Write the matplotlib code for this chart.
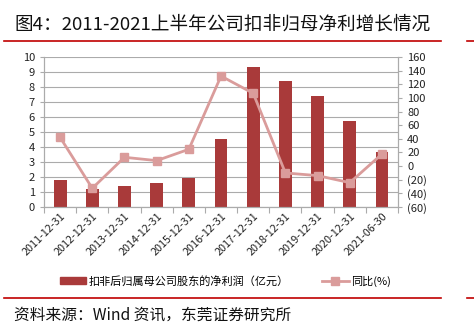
import matplotlib.pyplot as plt
from matplotlib.lines import Line2D
from matplotlib.patches import Patch

plt.rcParams['font.family'] = ['Noto Sans CJK SC', 'DejaVu Sans']

# datos
fechas = ['2011-12-31', '2012-12-31', '2013-12-31', '2014-12-31', '2015-12-31',
          '2016-12-31', '2017-12-31', '2018-12-31', '2019-12-31', '2020-12-31',
          '2021-06-30']
beneficio = [1.8, 1.22, 1.4, 1.58, 1.93, 4.51, 9.35, 8.42, 7.42, 5.71, 3.69]
crecimiento = [42.2, -32.6, 12.9, 8.0, 24.6, 132.0, 106.7, -10.1, -14.0, -24.3, 17.7]

izq_ticks = list(range(0, 11))
der_ticks = list(range(-60, 161, 20))
der_labels = ['(%d)' % -v if v < 0 else str(v) for v in der_ticks]

color_barra = '#A93A3A'
color_linea = '#DA9C9B'
gris = '#ABABAB'

fig = plt.figure(figsize=(4.74, 3.33), dpi=100)
ax = fig.add_axes([0.0928, 0.3784, 0.747, 0.4505])
ax2 = ax.twinx()

x = list(range(len(fechas)))
ax.bar(x, beneficio, width=0.4, color=color_barra, zorder=2)
ax.set_xlim(-0.5, len(fechas) - 0.5)
ax.set_ylim(0, 10)
ax.set_yticks(izq_ticks)
ax.yaxis.grid(True, color=gris, linewidth=0.8, zorder=0)
ax.set_axisbelow(True)

ax2.plot(x, crecimiento, color=color_linea, linewidth=2.0, marker='s',
         markersize=6, markerfacecolor=color_linea, markeredgecolor=color_linea, zorder=3)
ax2.set_ylim(-60, 160)
ax2.set_yticks(der_ticks)
ax2.set_yticklabels(der_labels)

# ejes
for a in (ax, ax2):
    for s in a.spines.values():
        s.set_color(gris)
    a.spines['top'].set_visible(False)
    a.tick_params(axis='y', labelsize=8, colors='#222222', length=3, width=0.8)
    a.tick_params(axis='y', color=gris)

ax.set_xticks([i - 0.5 for i in range(len(fechas) + 1)], minor=False)
ax.set_xticklabels([])
ax.tick_params(axis='x', length=4, color=gris, width=0.8)
ax.set_xticks(x, minor=True)
ax.set_xticklabels(fechas, minor=True, rotation=45, ha='right',
                   rotation_mode='anchor', fontsize=7.8, color='#222222')
ax.tick_params(axis='x', which='minor', length=0, pad=3)

# leyenda
handles = [Patch(facecolor=color_barra, edgecolor=color_barra),
           Line2D([0], [0], color=color_linea, linewidth=2.0, marker='s',
                  markersize=6, markerfacecolor=color_linea)]
fig.legend(handles, ['扣非后归属母公司股东的净利润（亿元）', '同比(%)'],
           loc='center', bbox_to_anchor=(0.475, 0.155), ncol=2, frameon=False,
           fontsize=8, handlelength=2.4, handleheight=0.6, columnspacing=3.0,
           handletextpad=0.2)

# titulo y fuente
fig.text(0.03, 0.925, '图4：2011-2021上半年公司扣非归母净利增长情况',
         fontsize=13.4, color='#111111', va='center', ha='left')
fig.add_artist(Line2D([0.008, 0.93], [0.877, 0.877], color='#C00000', linewidth=1.2))
fig.add_artist(Line2D([0.985, 1.0], [0.877, 0.877], color='#C00000', linewidth=1.2))
fig.add_artist(Line2D([0.008, 0.93], [0.105, 0.105], color='#C00000', linewidth=1.2))
fig.add_artist(Line2D([0.985, 1.0], [0.105, 0.105], color='#C00000', linewidth=1.2))
fig.text(0.03, 0.055, '资料来源：Wind 资讯，东莞证券研究所',
         fontsize=11.3, color='#111111', va='center', ha='left')

fig.savefig('out.png', dpi=100)
